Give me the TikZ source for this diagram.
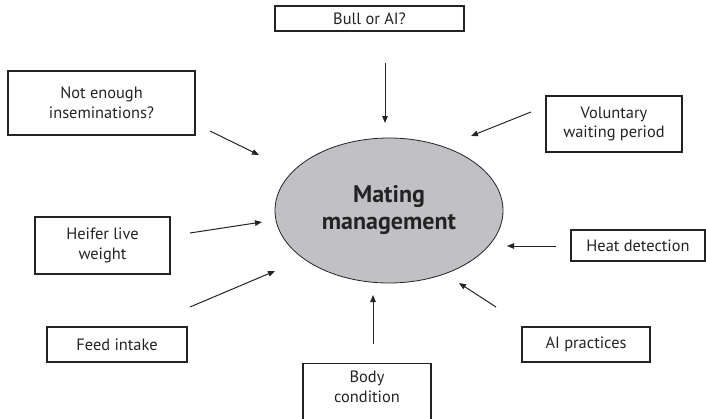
\documentclass[tikz,border=0pt]{standalone}
\usepackage{fontspec}
\setmainfont{PT Sans}
\usetikzlibrary{shapes.geometric,arrows.meta}
\definecolor{ellfill}{RGB}{193,193,197}
\definecolor{ink}{RGB}{35,35,35}
\tikzset{
  box/.style={draw=ink, line width=1.1pt, rectangle, inner sep=0pt, align=center,
    font=\fontsize{16.4}{19.5}\selectfont, text=ink},
  txt/.style={inner sep=0pt, align=center, font=\fontsize{16.4}{19.5}\selectfont, text=ink},
  conn/.style={draw=ink, line width=1pt, -{Triangle[length=7pt,width=5.5pt]}},
  hub/.style={ellipse, draw=ink, line width=0.8pt, fill=ellfill, inner sep=0pt,
    minimum width=228pt, minimum height=145pt, align=center,
    font=\fontsize{24}{27}\selectfont\bfseries, text=ink}
}
\begin{document}
\begin{tikzpicture}[x=1pt,y=-1pt]
\useasboundingbox (0,0) rectangle (706,418);
\node[hub] (mate) at (389,210.5) {Mating\\management};
\node[box, minimum width=189pt, minimum height=25pt] (bull) at (369.5,18.5) {Bull or AI?};
\node[box, minimum width=187pt, minimum height=64pt] (notenough) at (101.5,103) {Not enough\\inseminations?};
\node[box, minimum width=136pt, minimum height=56pt] (volunt) at (614,124) {Voluntary\\waiting period};
\node[box, minimum width=135pt, minimum height=57pt] (heifer) at (102.5,245.5) {Heifer live\\weight};
\node[box, minimum width=140pt, minimum height=35pt] (feed) at (117,344.5) {Feed intake};
\node[box, minimum width=128pt, minimum height=70pt, anchor=north] (body) at (367,363) {};
\node[txt] (bodytxt) at (367,387) {Body\\condition};
\node[box, minimum width=134pt, minimum height=31pt] (heat) at (638,245.5) {Heat detection};
\node[box, minimum width=128pt, minimum height=35pt] (aip) at (586,344.5) {AI practices};
% connector ends
\coordinate (b1) at (385,63);  \coordinate (e1) at (385,123);
\coordinate (b2) at (210,131); \coordinate (e2) at (259,155);
\coordinate (b3) at (531,112); \coordinate (e3) at (471,136);
\coordinate (b4) at (190,233); \coordinate (e4) at (262,222);
\coordinate (b5) at (190,307); \coordinate (e5) at (275,271);
\coordinate (b6) at (373,344); \coordinate (e6) at (373,295);
\coordinate (b7) at (556,246); \coordinate (e7) at (507,246);
\coordinate (b8) at (496,307); \coordinate (e8) at (459,283);
\draw[conn] (b1) -- (e1);
\draw[conn] (b2) -- (e2);
\draw[conn] (b3) -- (e3);
\draw[conn] (b4) -- (e4);
\draw[conn] (b5) -- (e5);
\draw[conn] (b6) -- (e6);
\draw[conn] (b7) -- (e7);
\draw[conn] (b8) -- (e8);
\end{tikzpicture}
\end{document}
